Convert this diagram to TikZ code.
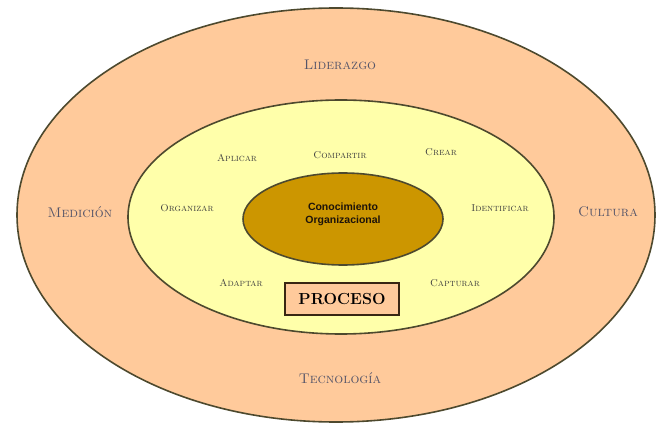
\documentclass[tikz,border=0pt]{standalone}
\usepackage{fontspec}
\newfontfamily\sansb{Liberation Sans}
\begin{document}
\begin{tikzpicture}[x=1pt,y=-1pt,
  ring/.style={draw=black!60!olive, line width=1.6pt},
  lbl/.style={font=\scshape\fontsize{14}{15}\selectfont, text=labelgray},
  proc/.style={font=\scshape\fontsize{10}{11}\selectfont, text=black!75},
  ctr/.style={font=\sansb\bfseries\fontsize{10.5}{13}\selectfont, text=black!85!brown, align=center}]
\definecolor{labelgray}{RGB}{85,85,105}
\useasboundingbox (0,0) rectangle (657,425);
\fill[white] (0,0) rectangle (657,425);
\definecolor{peach}{RGB}{255,202,155}
\definecolor{paleyel}{RGB}{255,255,170}
\definecolor{gold}{RGB}{204,150,0}
\draw[ring, fill=peach] (336,215) ellipse [x radius=319, y radius=207];
\draw[ring, fill=paleyel] (341,217) ellipse [x radius=213, y radius=117];
\draw[ring, fill=gold] (343,219) ellipse [x radius=100, y radius=46];
\node[ctr] (c) at (343,214) {Conocimiento\\Organizacional};
\node[draw=black!70!brown, line width=1.2pt, fill=peach, minimum width=114pt, minimum height=32pt, font=\fontsize{16}{16}\selectfont\bfseries] (p) at (342,299) {PROCESO};
\node[lbl] (l) at (340,65) {Liderazgo};
\node[lbl] (m) at (80,212) {Medición};
\node[lbl] (cu) at (608,212) {Cultura};
\node[lbl] (t) at (340,378) {Tecnología};
\node[proc] (a1) at (340,155) {Compartir};
\node[proc] (a2) at (237,158) {Aplicar};
\node[proc] (a3) at (441,152) {Crear};
\node[proc] (a4) at (187,208) {Organizar};
\node[proc] (a5) at (500,208) {Identificar};
\node[proc] (a6) at (241,283) {Adaptar};
\node[proc] (a7) at (455,283) {Capturar};
\end{tikzpicture}
\end{document}
